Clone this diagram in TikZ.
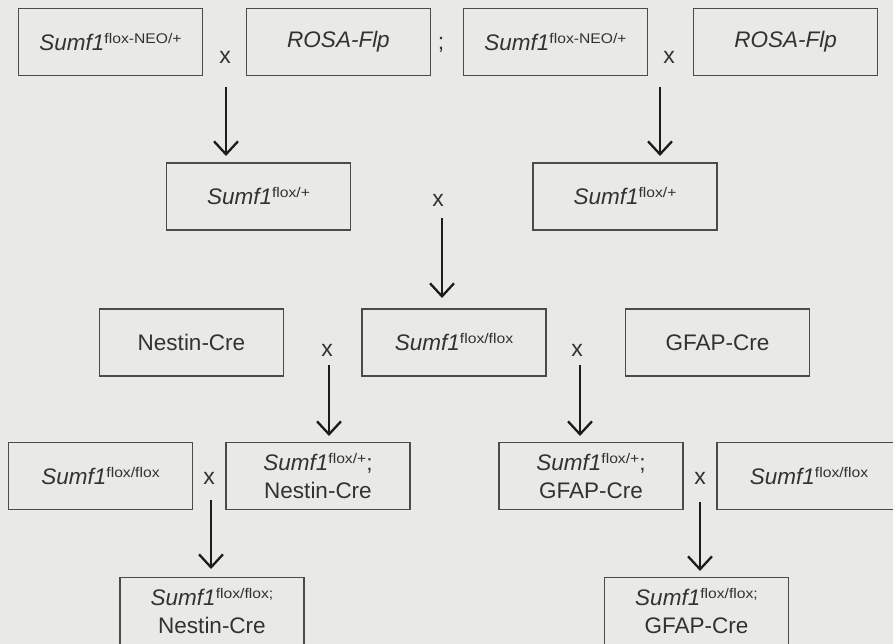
\documentclass[tikz,border=0pt]{standalone}
\usepackage{fontspec}
\setmainfont{Liberation Sans}
\usetikzlibrary{arrows.meta}
\definecolor{bg}{RGB}{233,233,229}
\definecolor{ink}{RGB}{50,50,50}
\definecolor{frame}{RGB}{75,75,75}
\definecolor{arrowc}{RGB}{28,28,28}
\newcommand{\gsup}[1]{\raisebox{7pt}{\fontsize{14}{14}\selectfont\addfontfeature{FakeStretch=1.12}#1}}
\newcommand{\sumf}[1]{\textit{Sumf1}\gsup{#1}}
\tikzset{
  gbox/.style={draw=frame, line width=1.5pt, minimum width=184pt, minimum height=67pt,
    inner sep=0pt, text=ink, align=center, font=\fontsize{22.5}{28}\selectfont},
  crossmark/.style={text=ink, inner sep=0pt, font=\fontsize{23}{23}\selectfont},
  garrow/.style={draw=arrowc, line width=2.3pt, -{Straight Barb[length=13pt,width=24pt]}}
}
\begin{document}
\begin{tikzpicture}[x=1pt,y=-1pt]
\fill[bg] (0,0) rectangle (893,644);
\useasboundingbox (0,0) rectangle (893,644);
\clip (0,0) rectangle (893,644);
% row 1
\node[gbox] (a1) at (110.5,42) {\sumf{flox-NEO/+}};
\node[crossmark] (xa) at (225,57) {x};
\node[gbox] (a2) at (338.5,42) {\textit{ROSA-Flp}};
\node[crossmark] (semi) at (441,45) {;};
\node[gbox] (a3) at (555.5,42) {\sumf{flox-NEO/+}};
\node[crossmark] (xb) at (669,57) {x};
\node[gbox] (a4) at (785.5,42) {\textit{ROSA-Flp}};
% row 2
\node[gbox] (b1) at (258.5,196.5) {\sumf{flox/+}};
\node[crossmark] (xc) at (438,200) {x};
\node[gbox] (b2) at (625,196.5) {\sumf{flox/+}};
% row 3
\node[gbox] (c1) at (191.5,342.5) {Nestin-Cre};
\node[crossmark] (xd) at (327,350) {x};
\node[gbox] (c2) at (454,342.5) {\sumf{flox/flox}};
\node[crossmark] (xe) at (577,350) {x};
\node[gbox] (c3) at (717.5,342.5) {GFAP-Cre};
% row 4
\node[gbox] (d1) at (100.5,476) {\sumf{flox/flox}};
\node[crossmark] (xf) at (209,478) {x};
\node[gbox] (d2) at (318,476) {\sumf{flox/+};\\Nestin-Cre};
\node[gbox] (d3) at (591,476) {\sumf{flox/+};\\GFAP-Cre};
\node[crossmark] (xg) at (700,478) {x};
\node[gbox] (d4) at (809,476) {\sumf{flox/flox}};
% row 5
\node[gbox] (e1) at (212,611) {\sumf{flox/flox;}\\Nestin-Cre};
\node[gbox] (e2) at (696.5,611) {\sumf{flox/flox;}\\GFAP-Cre};
% arrows
\coordinate (s1) at (226,87);  \coordinate (t1) at (226,156);
\coordinate (s2) at (660,87);  \coordinate (t2) at (660,156);
\coordinate (s3) at (442,218); \coordinate (t3) at (442,298);
\coordinate (s4) at (329,365); \coordinate (t4) at (329,436);
\coordinate (s5) at (580,365); \coordinate (t5) at (580,436);
\coordinate (s6) at (211,500); \coordinate (t6) at (211,569);
\coordinate (s7) at (700,502); \coordinate (t7) at (700,571);
\foreach \i in {1,...,7} {\draw[garrow] (s\i) -- (t\i);}
\end{tikzpicture}
\end{document}
